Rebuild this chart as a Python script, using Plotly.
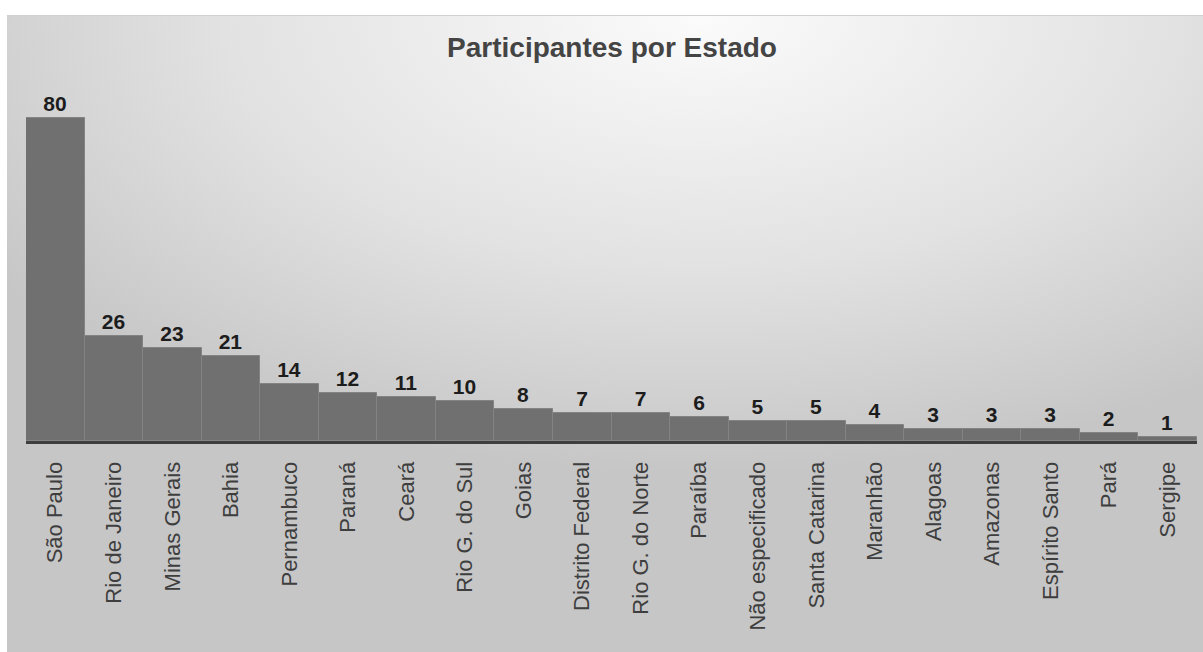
import base64
import plotly.graph_objects as go

estados = ["São Paulo", "Rio de Janeiro", "Minas Gerais", "Bahia", "Pernambuco",
           "Paraná", "Ceará", "Rio G. do Sul", "Goias", "Distrito Federal",
           "Rio G. do Norte", "Paraíba", "Não especificado", "Santa Catarina",
           "Maranhão", "Alagoas", "Amazonas", "Espírito Santo", "Pará", "Sergipe"]
participantes = [80, 26, 23, 21, 14, 12, 11, 10, 8, 7, 7, 6, 5, 5, 4, 3, 3, 3, 2, 1]

W, H = 1203, 652
ML, MR, MT, MB = 26, 6, 77, 211
PW, PH = W - ML - MR, H - MT - MB
FONT = "Liberation Sans, Arial, sans-serif"

# soft grey radial backdrop for the chart panel
panel_x0, panel_y0 = 7, 15
panel_w, panel_h = W - panel_x0, H - panel_y0
svg = f'''<svg xmlns="http://www.w3.org/2000/svg" width="{panel_w}" height="{panel_h}">
<defs><radialGradient id="g" cx="0.58" cy="0.0" r="0.72" fx="0.58" fy="0.0">
<stop offset="0" stop-color="#fbfbfb"/><stop offset="0.55" stop-color="#e2e2e2"/>
<stop offset="1" stop-color="#c6c6c6"/></radialGradient></defs>
<rect width="100%" height="100%" fill="url(#g)"/>
<line x1="0" y1="0.5" x2="{panel_w}" y2="0.5" stroke="#d0d0d0" stroke-width="1"/>
</svg>'''
bg_src = "data:image/svg+xml;base64," + base64.b64encode(svg.encode()).decode()

fig = go.Figure(go.Bar(
    x=estados,
    y=participantes,
    text=[str(v) for v in participantes],
    textposition="outside",
    cliponaxis=False,
    textfont=dict(family=FONT, size=21, color="#1c1c1c", weight="bold"),
    marker=dict(color="#707070", line=dict(color="#838383", width=1)),
    hoverinfo="x+y",
))

fig.update_layout(
    width=W, height=H,
    margin=dict(l=ML, r=MR, t=MT, b=MB, pad=0),
    paper_bgcolor="white",
    plot_bgcolor="rgba(0,0,0,0)",
    bargap=0,
    showlegend=False,
    title=dict(text="<b>Participantes por Estado</b>", x=612 / W, xanchor="center",
               y=1 - 47 / H, yanchor="middle",
               font=dict(family=FONT, size=28, color="#444444")),
    images=[dict(source=bg_src, xref="paper", yref="paper",
                 x=(panel_x0 - ML) / PW, y=(H - MB - panel_y0) / PH,
                 sizex=panel_w / PW, sizey=panel_h / PH,
                 xanchor="left", yanchor="top", sizing="stretch", layer="below")],
    xaxis=dict(tickangle=-90, showgrid=False, showline=True, linecolor="#3e3e3e",
               linewidth=3, ticks="outside", ticklen=9, tickcolor="rgba(0,0,0,0)",
               tickfont=dict(family=FONT, size=22, color="#3e3e3e")),
    yaxis=dict(range=[0, 90.1], visible=False, showgrid=False, zeroline=False),
)

fig.write_html("out.html")
